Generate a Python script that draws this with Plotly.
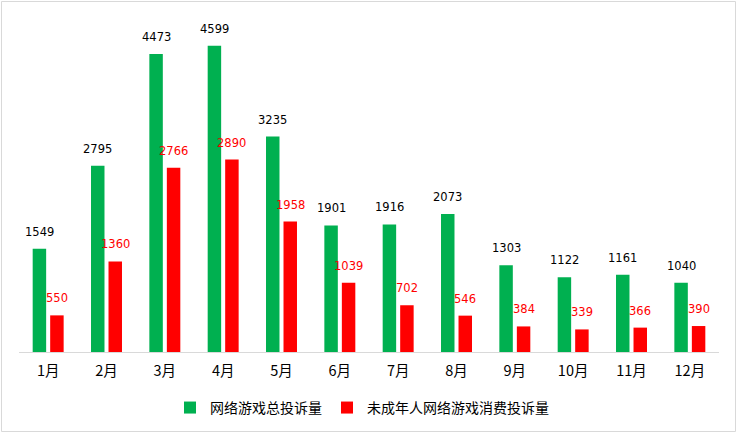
import plotly.graph_objects as go

months = ["1月", "2月", "3月", "4月", "5月", "6月", "7月", "8月", "9月", "10月", "11月", "12月"]
total_complaints = [1549, 2795, 4473, 4599, 3235, 1901, 1916, 2073, 1303, 1122, 1161, 1040]
minor_complaints = [550, 1360, 2766, 2890, 1958, 1039, 702, 546, 384, 339, 366, 390]

W, H = 738, 434
ml, mr, mt, mb = 19, 19, 19, 82
pw = W - ml - mr
ph = H - mt - mb

bargap = 0.40
bargroupgap = 0.23
cat_w = pw / len(months)
bar_offset = cat_w * (1 - bargap) / 4  # pixel offset of each bar centre from category centre

cjk = "Noto Sans CJK SC, Noto Sans, sans-serif"
num_font = "DejaVu Sans, sans-serif"

fig = go.Figure()
fig.add_trace(go.Bar(
    x=months, y=total_complaints, name="网络游戏总投诉量",
    marker_color="#00B050", marker_line_width=0,
))
fig.add_trace(go.Bar(
    x=months, y=minor_complaints, name="未成年人网络游戏消费投诉量",
    marker_color="#FF0000", marker_line_width=0,
))

annotations = []
for m, v in zip(months, total_complaints):
    annotations.append(dict(x=m, y=v, xref="x", yref="y", text=str(v), showarrow=False,
                            xshift=-bar_offset, yshift=17, yanchor="middle",
                            font=dict(family=num_font, size=11.5, color="#000000")))
for m, v in zip(months, minor_complaints):
    annotations.append(dict(x=m, y=v, xref="x", yref="y", text=str(v), showarrow=False,
                            xshift=bar_offset, yshift=17, yanchor="middle",
                            font=dict(family=num_font, size=11.5, color="#FF0000")))

fig.update_layout(
    width=W, height=H,
    margin=dict(l=ml, r=mr, t=mt, b=mb, autoexpand=False),
    paper_bgcolor="white", plot_bgcolor="white",
    barmode="group", bargap=bargap, bargroupgap=bargroupgap,
    font=dict(family=cjk, size=14, color="#000000"),
    showlegend=True,
    legend=dict(orientation="h", x=0.49, xanchor="center", y=-0.168, yanchor="middle",
                font=dict(size=14, color="#000000", family=cjk), itemwidth=30,
                tracegroupgap=0, traceorder="normal"),
    xaxis=dict(showline=True, linecolor="#D9D9D9", linewidth=1, ticks="",
               tickfont=dict(size=14.5, color="#000000", family=cjk), showgrid=False,
               automargin=False, ticklabelstandoff=6),
    yaxis=dict(range=[0, 5000], visible=False, showgrid=False, automargin=False),
    annotations=annotations,
    shapes=[dict(type="rect", xref="paper", yref="paper",
                 x0=-(ml - 1.5) / pw, x1=1 + (mr - 2.5) / pw,
                 y0=-(mb - 2.5) / ph, y1=1 + (mt - 1.5) / ph,
                 line=dict(color="#D9D9D9", width=1), fillcolor="rgba(0,0,0,0)")],
)

fig.write_html("out.html", config={"displayModeBar": False},
               post_script="document.body.style.margin='0';document.body.style.padding='0';")
